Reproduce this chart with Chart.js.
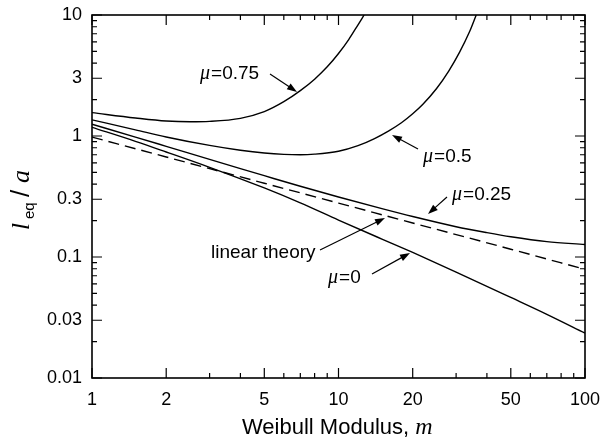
<!DOCTYPE html>
<html>
<head>
<meta charset="utf-8">
<script src="https://cdn.jsdelivr.net/npm/chart.js@4.4.1/dist/chart.umd.min.js"></script>
<style>
  html, body { margin: 0; padding: 0; background: #fff; }
  #wrap { width: 600px; height: 442px; }
</style>
</head>
<body>
<div id="wrap"><canvas id="chart" width="600" height="442"></canvas></div>
<script>
// tick values
const xTicksMajor = [1, 2, 5, 10, 20, 50, 100];
const xTicksMinor = [3, 4, 6, 7, 8, 9, 30, 40, 60, 70, 80, 90];
const yTicksMajor = [0.01, 0.03, 0.1, 0.3, 1, 3, 10];
const yTicksMinor = [0.02, 0.04, 0.05, 0.06, 0.07, 0.08, 0.09,
                     0.2, 0.4, 0.5, 0.6, 0.7, 0.8, 0.9,
                     2, 4, 5, 6, 7, 8, 9];

// curves (m, l_eq/a)
const mu075M = [1, 1.5, 2, 2.5, 3, 4, 5, 6, 7, 8, 9, 10, 11, 12, 12.7];
const mu075V = [1.56, 1.41, 1.33, 1.31, 1.32, 1.40, 1.59, 1.92, 2.37, 2.95, 3.73, 4.81, 6.27, 8.30, 10];

const mu05M = [1, 1.5, 2, 3, 4, 5, 6, 7, 8, 10, 12, 14, 16, 18, 20, 22, 25, 28, 31, 34, 36.2];
const mu05V = [1.36, 1.125, 0.982, 0.836, 0.762, 0.723, 0.705, 0.700, 0.708, 0.748, 0.832, 0.953, 1.104, 1.288, 1.528, 1.83, 2.47, 3.44, 4.93, 7.26, 10];

const mu025M = [1, 1.5, 2, 3, 4, 5, 7, 10, 15, 20, 30, 40, 50, 70, 100];
const mu025V = [1.25, 0.98, 0.822, 0.641, 0.538, 0.470, 0.384, 0.313, 0.251, 0.216, 0.178, 0.159, 0.147, 0.134, 0.127];

const mu0M = [1, 1.5, 2, 3, 5, 7, 10, 15, 20, 30, 50, 70, 100];
const mu0V = [1.18, 0.904, 0.738, 0.551, 0.372, 0.280, 0.202, 0.1406, 0.109, 0.0750, 0.0463, 0.0336, 0.0235];

const linearM = [1, 2, 5, 10, 20, 50, 100];
const linearV = [0.98, 0.671, 0.407, 0.279, 0.191, 0.116, 0.079];

const toPts = (xs, ys) => xs.map((x, i) => ({ x: x, y: ys[i] }));

function curve(xs, ys, dash) {
  return {
    data: toPts(xs, ys),
    showLine: true,
    borderColor: '#000',
    borderWidth: 1.4,
    borderDash: dash || [],
    pointRadius: 0,
    cubicInterpolationMode: 'monotone',
    fill: false
  };
}

// annotations: label text pieces and arrow (tail -> tip), in pixels
const notes = [
  { mu: true, text: '=0.75', x: 200, y: 79, tail: [270, 74], tip: [297, 92] },
  { mu: true, text: '=0.5', x: 423, y: 162, tail: [418, 149], tip: [392, 135] },
  { mu: true, text: '=0.25', x: 452, y: 200, tail: [447, 197], tip: [428, 214] },
  { mu: false, text: 'linear theory', x: 211, y: 258, tail: [320, 250], tip: [385, 218] },
  { mu: true, text: '=0', x: 328, y: 283, tail: [372, 274], tip: [410, 253] }
];

function arrow(ctx, a, b) {
  const ang = Math.atan2(b[1] - a[1], b[0] - a[0]);
  const len = 10, hw = 3.5;
  ctx.beginPath();
  ctx.moveTo(a[0], a[1]);
  ctx.lineTo(b[0] - Math.cos(ang) * len * 0.8, b[1] - Math.sin(ang) * len * 0.8);
  ctx.stroke();
  ctx.beginPath();
  ctx.moveTo(b[0], b[1]);
  ctx.lineTo(b[0] - Math.cos(ang) * len - Math.sin(ang) * hw, b[1] - Math.sin(ang) * len + Math.cos(ang) * hw);
  ctx.lineTo(b[0] - Math.cos(ang) * len + Math.sin(ang) * hw, b[1] - Math.sin(ang) * len - Math.cos(ang) * hw);
  ctx.closePath();
  ctx.fill();
}

const decor = {
  id: 'decor',
  afterDraw(chart) {
    const ctx = chart.ctx;
    const a = chart.chartArea;
    const xs = chart.scales.x, ys = chart.scales.y;
    ctx.save();
    ctx.strokeStyle = '#000';
    ctx.fillStyle = '#000';

    // frame
    ctx.lineWidth = 1.6;
    ctx.setLineDash([]);
    ctx.strokeRect(a.left, a.top, a.right - a.left, a.bottom - a.top);

    // inward ticks on all four sides
    ctx.lineWidth = 1.2;
    ctx.beginPath();
    xTicksMajor.concat(xTicksMinor).forEach(v => {
      const px = xs.getPixelForValue(v);
      const len = xTicksMajor.includes(v) ? 10 : 5;
      ctx.moveTo(px, a.bottom); ctx.lineTo(px, a.bottom - len);
      ctx.moveTo(px, a.top); ctx.lineTo(px, a.top + len);
    });
    yTicksMajor.concat(yTicksMinor).forEach(v => {
      const py = ys.getPixelForValue(v);
      const len = yTicksMajor.includes(v) ? 10 : 5;
      ctx.moveTo(a.left, py); ctx.lineTo(a.left + len, py);
      ctx.moveTo(a.right, py); ctx.lineTo(a.right - len, py);
    });
    ctx.stroke();

    // annotations
    ctx.lineWidth = 1.2;
    ctx.textBaseline = 'alphabetic';
    ctx.textAlign = 'left';
    notes.forEach(n => {
      let x = n.x;
      if (n.mu) {
        ctx.font = 'italic 20px "Liberation Serif"';
        ctx.fillText('\u03bc', x, n.y);
        x += ctx.measureText('\u03bc').width + 1;
      }
      ctx.font = '19px "Liberation Sans"';
      ctx.fillText(n.text, x, n.y);
      arrow(ctx, n.tail, n.tip);
    });

    // x title
    ctx.font = '22px "Liberation Sans"';
    const xt = 'Weibull Modulus, ';
    ctx.fillText(xt, 242, 434);
    const w = ctx.measureText(xt).width;
    ctx.font = 'italic 24px "Liberation Serif"';
    ctx.fillText('m', 242 + w, 434);

    // y title, rotated
    ctx.translate(29, 230);
    ctx.rotate(-Math.PI / 2);
    ctx.font = 'italic 25px "Liberation Serif"';
    ctx.fillText('l', 0, 0);
    ctx.font = '15px "Liberation Sans"';
    ctx.fillText('eq', 11, 5);
    ctx.font = '26px "Liberation Sans"';
    ctx.fillText('/', 33, 0);
    ctx.font = 'italic 26px "Liberation Serif"';
    ctx.fillText('a', 47, 0);
    ctx.restore();
  }
};

new Chart(document.getElementById('chart'), {
  type: 'scatter',
  data: {
    datasets: [
      curve(mu075M, mu075V),
      curve(mu05M, mu05V),
      curve(mu025M, mu025V),
      curve(mu0M, mu0V),
      curve(linearM, linearV, [11, 6])
    ]
  },
  options: {
    responsive: false,
    animation: false,
    layout: { padding: { top: 15, right: 15, left: 0, bottom: 0 } },
    plugins: { legend: { display: false }, tooltip: { enabled: false } },
    scales: {
      x: {
        type: 'logarithmic',
        min: 1, max: 100,
        grid: { display: false, drawTicks: false },
        border: { display: false },
        afterBuildTicks: s => { s.ticks = xTicksMajor.map(v => ({ value: v })); },
        afterFit: s => { s.height = 64; s.paddingLeft = 0; s.paddingRight = 0; },
        ticks: {
          autoSkip: false, maxRotation: 0, padding: 11, color: '#000',
          font: { family: 'Liberation Sans', size: 18 },
          callback: v => String(v)
        }
      },
      y: {
        type: 'logarithmic',
        min: 0.01, max: 10,
        grid: { display: false, drawTicks: false },
        border: { display: false },
        afterBuildTicks: s => { s.ticks = yTicksMajor.map(v => ({ value: v })); },
        afterFit: s => { s.width = 92; s.paddingTop = 0; s.paddingBottom = 0; },
        ticks: {
          autoSkip: false, padding: 10, color: '#000',
          font: { family: 'Liberation Sans', size: 18 },
          callback: v => String(v)
        }
      }
    }
  },
  plugins: [decor]
});
</script>
</body>
</html>
